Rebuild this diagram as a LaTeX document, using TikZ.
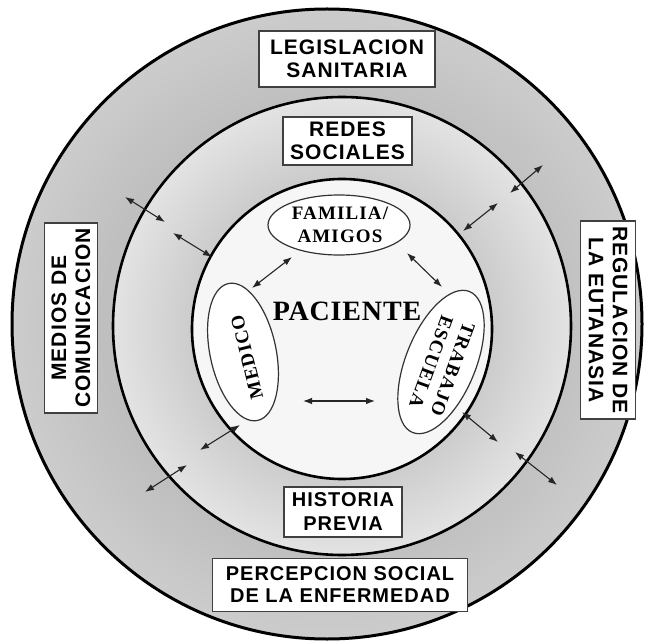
\documentclass[tikz,border=0pt]{standalone}
\usepackage{fontspec}
\setmainfont{Liberation Serif}
\newfontfamily\boxfont[LetterSpace=5]{Liberation Sans}
\newfontfamily\ovalfont[LetterSpace=6]{Liberation Serif}
\newfontfamily\pacfont[LetterSpace=3]{Liberation Serif}
\usetikzlibrary{shapes.geometric,arrows.meta}
\definecolor{ringAin}{gray}{0.75}
\definecolor{ringAout}{gray}{0.80}
\definecolor{ringBin}{gray}{0.80}
\definecolor{ringBout}{gray}{0.89}
\definecolor{core}{gray}{0.965}
\pgfdeclareradialshading{outershade}{\pgfpoint{0bp}{0bp}}{color(0bp)=(ringAin); color(18bp)=(ringAin); color(25bp)=(ringAout); color(50bp)=(ringAout)}
\pgfdeclareradialshading{middleshade}{\pgfpoint{0bp}{0bp}}{color(0bp)=(ringBin); color(16.4bp)=(ringBin); color(25bp)=(ringBout); color(50bp)=(ringBout)}
\begin{document}
\begin{tikzpicture}[x=1pt,y=-1pt,
  lbl/.style={draw=black!75, line width=1.3pt, fill=white, inner sep=0pt, align=center,
    font=\boxfont\bfseries\fontsize{21}{23}\selectfont},
  oval/.style={draw=black!80, line width=1.2pt, ellipse, fill=white, inner sep=0pt},
  ovaltext/.style={font=\ovalfont\bfseries\fontsize{19}{23}\selectfont, align=center, inner sep=0pt},
  arr/.style={{Latex[length=9pt,width=6.5pt]}-{Latex[length=9pt,width=6.5pt]}, line width=1.1pt, draw=black!85},
  ring/.style={draw=black, line width=2.6pt}]
\useasboundingbox (0,0) rectangle (648,644);
\fill[white] (0,0) rectangle (648,644);
% circles
\coordinate (cO) at (327,324);
\coordinate (cM) at (342,326);
\coordinate (cI) at (342,329);
\shade[shading=outershade] (cO) circle[radius=315pt];
\draw[ring, line width=3pt] (cO) circle[radius=315pt];
\shade[shading=middleshade] (cM) circle[radius=229pt];
\draw[ring] (cM) circle[radius=229pt];
\fill[core] (cI) circle[radius=150pt];
\draw[ring] (cI) circle[radius=150pt];
% boxes
\node[lbl, minimum width=176pt, minimum height=56pt] (leg) at (347,59) {LEGISLACION\\SANITARIA};
\node[lbl, minimum width=129pt, minimum height=48pt] (redes) at (347.5,141) {REDES\\SOCIALES};
\node[lbl, minimum width=118pt, minimum height=50pt, font=\boxfont\bfseries\fontsize{20}{24}\selectfont] (hist) at (343,512) {HISTORIA\\PREVIA};
\node[lbl, minimum width=255pt, minimum height=53pt, font=\boxfont\bfseries\fontsize{20}{22}\selectfont] (perc) at (340,585) {PERCEPCION SOCIAL\\DE LA ENFERMEDAD};
\node[lbl, rotate=90, minimum width=190pt, minimum height=53pt, font=\boxfont\bfseries\fontsize{21}{24}\selectfont] (medios) at (71,318) {MEDIOS DE\\COMUNICACION};
\node[lbl, rotate=-90, minimum width=198pt, minimum height=55pt, font=\boxfont\bfseries\fontsize{21}{24}\selectfont] (regul) at (608,320) {REGULACION DE\\LA EUTANASIA};
% ellipses
\node[oval, minimum width=142pt, minimum height=60pt] (fam) at (339,225) {};
\node[oval, rotate=102, minimum width=140pt, minimum height=66pt] (med) at (243,352) {};
\node[oval, rotate=68, minimum width=152pt, minimum height=70pt] (trab) at (441,362) {};
\node[ovaltext] (famt) at (340,225) {FAMILIA/\\AMIGOS};
\node[ovaltext, rotate=104] (medt) at (247,357) {MEDICO};
\node[ovaltext, rotate=-110] (trabt) at (442,366) {TRABAJO\\ESCUELA};
\node[font=\pacfont\bfseries\fontsize{28}{30}\selectfont, inner sep=0pt] (pac) at (347,311) {PACIENTE};
% arrow end points
\coordinate (a1a) at (292,257); \coordinate (a1b) at (252,288);
\coordinate (a2a) at (407,253); \coordinate (a2b) at (442,287);
\coordinate (a3a) at (303,401); \coordinate (a3b) at (375,401);
\coordinate (o1a) at (125,197); \coordinate (o1b) at (165,222);
\coordinate (o2a) at (173,233); \coordinate (o2b) at (212,257);
\coordinate (o3a) at (463,231); \coordinate (o3b) at (498,203);
\coordinate (o4a) at (510,193); \coordinate (o4b) at (543,165);
\coordinate (o5a) at (200,450); \coordinate (o5b) at (240,425);
\coordinate (o6a) at (145,492); \coordinate (o6b) at (187,465);
\coordinate (o7a) at (462,412); \coordinate (o7b) at (498,442);
\coordinate (o8a) at (515,452); \coordinate (o8b) at (557,485);
\foreach \p in {a1,a2,a3,o1,o2,o3,o4,o5,o6,o7,o8}
  \draw[arr] (\p a) -- (\p b);
\end{tikzpicture}
\end{document}
